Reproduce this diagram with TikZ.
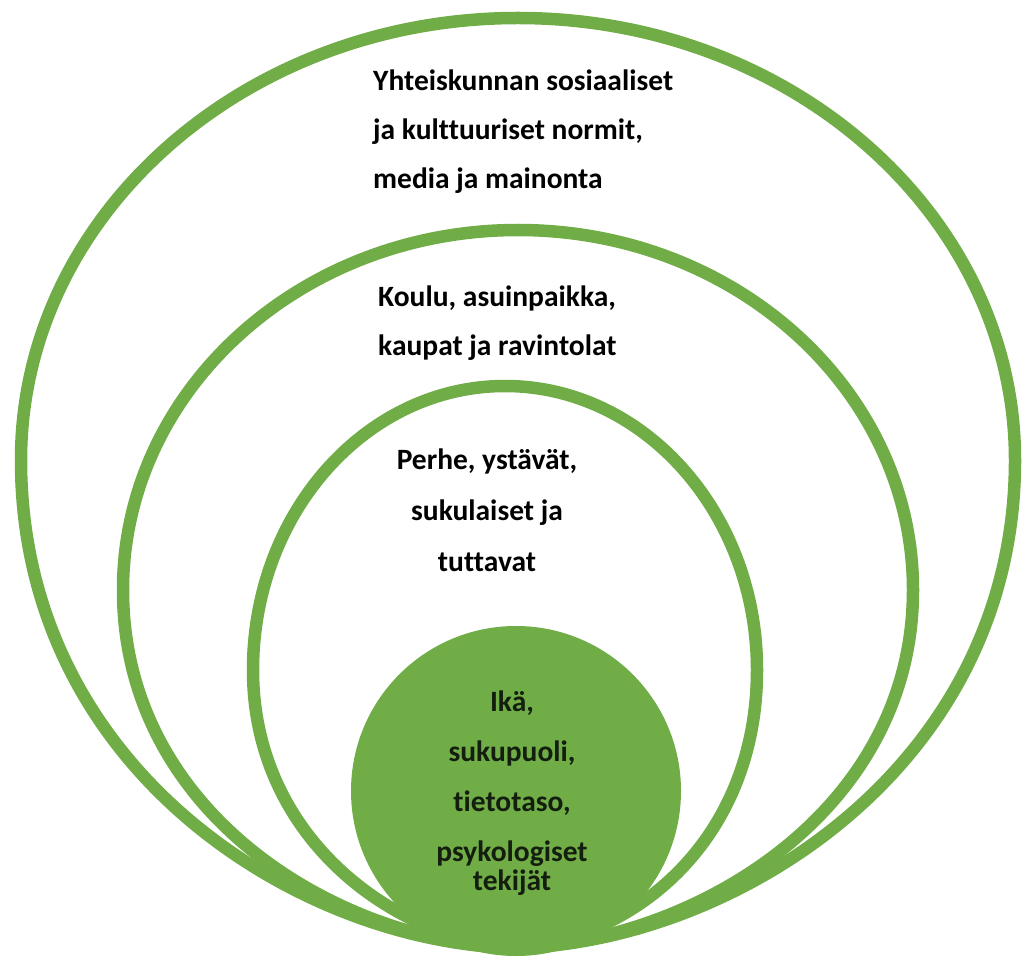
\documentclass[tikz,border=0pt]{standalone}
\usepackage{fontspec}
\setmainfont{Carlito}[Ligatures=NoCommon]
\definecolor{lgreen}{RGB}{112,173,71}
\definecolor{darktxt}{RGB}{20,30,15}
\begin{document}
\begin{tikzpicture}[x=1pt,y=-1pt,
  ring/.style={draw=lgreen, line width=12.5pt},
  lbl/.style={font=\bfseries\fontsize{29.5}{49}\selectfont, inner sep=0pt, text=black}]
\useasboundingbox (0,0) rectangle (1030,965);
% outer ring
\draw[ring] (515,948) .. controls (300,943) and (21,770) .. (21,460)
  .. controls (21,216) and (244,18) .. (518,18)
  .. controls (792,18) and (1015,216) .. (1015,460)
  .. controls (1015,770) and (730,943) .. (515,948) -- cycle;
% middle ring
\draw[ring] (515,948) .. controls (340,943) and (123,815) .. (123,590)
  .. controls (123,391) and (300,230) .. (518,230)
  .. controls (736,230) and (913,391) .. (913,590)
  .. controls (913,815) and (690,943) .. (515,948) -- cycle;
% inner ring
\draw[ring] (515,948) .. controls (390,938) and (253,835) .. (253,670)
  .. controls (253,513) and (366,386) .. (505,386)
  .. controls (644,386) and (757,513) .. (757,670)
  .. controls (757,835) and (640,938) .. (515,948) -- cycle;
% core circle
\node[circle, fill=lgreen, minimum size=330pt, inner sep=0pt] (core) at (516,791) {};
% labels
\node[lbl, align=left, anchor=north west] (t1) at (373,70) {Yhteiskunnan sosiaaliset\\ja kulttuuriset normit,\\media ja mainonta};
\node[lbl, align=left, anchor=north west] (t2) at (378,286) {Koulu, asuinpaikka,\\kaupat ja ravintolat};
\node[lbl, align=center, anchor=north, font=\bfseries\fontsize{29.5}{51}\selectfont] (t3) at (487,449) {Perhe, ystävät,\\sukulaiset ja\\tuttavat};
\node[lbl, align=center, anchor=north, text=darktxt, font=\bfseries\fontsize{29.5}{50}\selectfont] (t4) at (512,691) {Ikä,\\sukupuoli,\\tietotaso,\\psykologiset\\[-21pt]tekijät};
\end{tikzpicture}
\end{document}
